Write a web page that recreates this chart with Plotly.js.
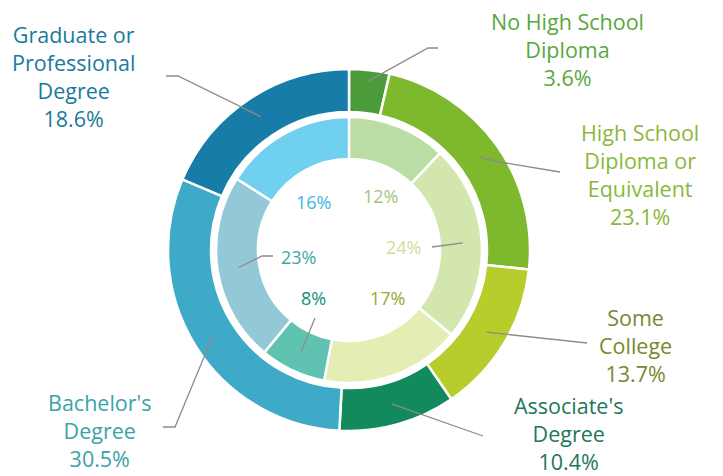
<!DOCTYPE html>
<html>
<head>
<meta charset="utf-8">
<script src="https://cdn.plot.ly/plotly-3.0.1.min.js"></script>
<style>html,body{margin:0;padding:0;background:#fff;}#chart{width:723px;height:476px;}</style>
</head>
<body>
<div id="chart"></div>
<script>
// ---- data ----
var outerLabels = ["No High School Diploma", "High School Diploma or Equivalent", "Some College", "Associate's Degree", "Bachelor's Degree", "Graduate or Professional Degree"];
var outerValues = [3.6, 23.1, 13.7, 10.4, 30.5, 18.6];
var outerText = ["No High School<br>Diploma<br>3.6%", "High School<br>Diploma or<br>Equivalent<br>23.1%", "Some<br>College<br>13.7%", "Associate's<br>Degree<br>10.4%", "Bachelor's<br>Degree<br>30.5%", "Graduate or<br>Professional<br>Degree<br>18.6%"];
var innerLabels = ["A", "B", "C", "D", "E", "F"];
var innerValues = [12, 24, 17, 8, 23, 16];
var innerText = ["12%", "24%", "17%", "8%", "23%", "16%"];

// ---- styles ----
var outerColors = ["#4b9b3a", "#7db82d", "#b6cd2b", "#128a5e", "#3eaac7", "#177ca8"];
var innerColors = ["#b9dda3", "#d3e6ad", "#e4eeb4", "#60c3b1", "#93c9d6", "#70d0f0"];
var outerTextColors = ["#58a83e", "#8ab83a", "#7a872e", "#1c7858", "#3aa3a8", "#1b7a9c"];
var innerTextColors = ["#9fc67f", "#cde09b", "#98a830", "#168f75", "#3fa6a9", "#3cb6e0"];

var W = 723, H = 476;
var CX = 349, CY = 250, R_OUT = 181, R_IN = 133;
function px(x) { return x / W; }
function py(y) { return 1 - y / H; }

// point at mid-angle of slice i, radius r (pixels)
function midPoint(values, i, r) {
  var tot = values.reduce(function(a, b) { return a + b; }, 0);
  var cum = 0;
  for (var k = 0; k < i; k++) cum += values[k];
  var th = (cum + values[i] / 2) / tot * 2 * Math.PI;
  return [CX + r * Math.sin(th), CY - r * Math.cos(th)];
}

var traces = [
  {
    type: "pie", values: outerValues, labels: outerLabels, sort: false, direction: "clockwise", rotation: 0,
    hole: 138 / R_OUT, textinfo: "none", hoverinfo: "label+value", showlegend: false,
    marker: { colors: outerColors, line: { color: "#ffffff", width: 2.5 } },
    domain: { x: [px(CX - R_OUT), px(CX + R_OUT)], y: [py(CY + R_OUT), py(CY - R_OUT)] }
  },
  {
    type: "pie", values: innerValues, labels: innerLabels, sort: false, direction: "clockwise", rotation: 0,
    hole: 91 / R_IN, textinfo: "none", hoverinfo: "value", showlegend: false,
    marker: { colors: innerColors, line: { color: "#ffffff", width: 2.5 } },
    domain: { x: [px(CX - R_IN), px(CX + R_IN)], y: [py(CY + R_IN), py(CY - R_IN)] }
  }
];

var FONT = "Open Sans, Liberation Sans, Arial, sans-serif";
var outerPos = [[567, 50], [640, 174], [635, 345], [568, 433], [100, 430], [73, 76]];
var innerPos = [[380, 196], [403, 247], [387, 298], [313, 298], [298, 257], [313, 202]];

var annotations = [];
outerText.forEach(function(t, i) {
  annotations.push({ xref: "paper", yref: "paper", x: px(outerPos[i][0]), y: py(outerPos[i][1]), text: t,
    showarrow: false, xanchor: "center", yanchor: "middle", align: "center",
    font: { family: FONT, size: 21.5, color: outerTextColors[i] } });
});
innerText.forEach(function(t, i) {
  annotations.push({ xref: "paper", yref: "paper", x: px(innerPos[i][0]), y: py(innerPos[i][1]), text: t,
    showarrow: false, xanchor: "center", yanchor: "middle",
    font: { family: FONT, size: 18, color: innerTextColors[i] } });
});

// leader lines: start at slice mid-point, then elbow/end points near labels
var outerLeaders = [
  [0, 170, [[428, 48], [438, 48]]],
  [1, 160, [[500, 162], [560, 172]]],
  [2, 160, [[587, 343]]],
  [3, 160, [[483, 436]]],
  [4, 160, [[175, 427], [163, 427]]],
  [5, 160, [[178, 76], [166, 76]]]
];
var innerLeaders = [
  [1, 114, [[432, 247]]],
  [4, 112, [[262, 256], [273, 256]]],
  [3, 112, [[315, 318]]]
];
var shapes = [];
function addLeader(values, spec) {
  var p0 = midPoint(values, spec[0], spec[1]);
  var d = "M " + px(p0[0]) + " " + py(p0[1]);
  spec[2].forEach(function(p) { d += " L " + px(p[0]) + " " + py(p[1]); });
  shapes.push({ type: "path", xref: "paper", yref: "paper", path: d, line: { color: "#8c8c8c", width: 1.3 } });
}
outerLeaders.forEach(function(s) { addLeader(outerValues, s); });
innerLeaders.forEach(function(s) { addLeader(innerValues, s); });

var layout = {
  width: W, height: H, margin: { l: 0, r: 0, t: 0, b: 0 },
  paper_bgcolor: "#ffffff", plot_bgcolor: "#ffffff",
  showlegend: false, annotations: annotations, shapes: shapes
};
Plotly.newPlot("chart", traces, layout, { displayModeBar: false, staticPlot: true });
</script>
</body>
</html>
